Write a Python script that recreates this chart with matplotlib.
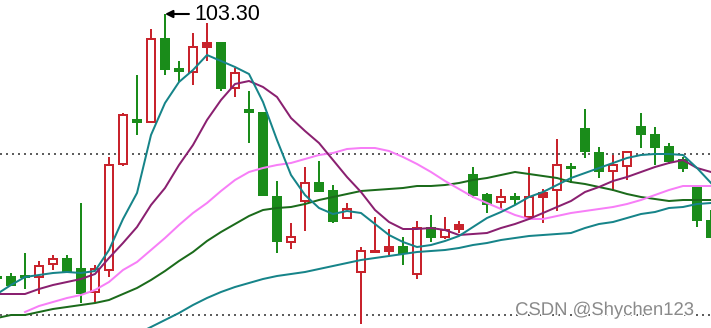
import matplotlib.pyplot as plt
import matplotlib.patheffects as pe
import numpy as np

# candle index, -1 is the half-hidden one at the left edge
idx = np.arange(-1, 51)

opens = np.array([90.15, 90.15, 90.20, 90.15, 90.80, 91.05, 90.55, 89.40, 90.50, 95.80,
                  98.00, 97.90, 102.05, 100.55, 100.40, 101.65, 101.85, 99.60, 98.50, 98.35,
                  94.15, 91.90, 93.95, 94.85, 94.45, 93.10, 90.40, 91.40, 91.45, 91.65,
                  90.30, 92.60, 92.15, 92.55, 95.25, 94.25, 93.90, 94.15, 93.15, 94.15,
                  94.50, 95.65, 97.55, 96.35, 95.45, 95.70, 97.65, 97.25, 96.65, 96.00,
                  94.65, 92.95])
closes = np.array([90.10, 89.75, 90.15, 90.70, 91.05, 90.40, 89.35, 90.55, 95.75, 98.25,
                   97.90, 102.05, 100.55, 100.45, 101.65, 101.85, 99.60, 100.35, 98.40, 94.25,
                   91.95, 92.15, 94.85, 94.45, 92.95, 93.55, 91.45, 91.45, 91.65, 91.35,
                   92.60, 92.15, 92.50, 92.75, 94.25, 93.80, 94.15, 94.05, 94.15, 94.35,
                   95.75, 95.60, 96.45, 95.45, 95.75, 96.40, 97.30, 96.65, 95.95, 95.60,
                   93.00, 92.15])
highs = np.array([90.20, 90.35, 91.35, 90.95, 91.25, 91.25, 93.85, 90.75, 96.15, 98.35,
                  100.25, 102.55, 103.30, 100.95, 102.35, 102.85, 101.85, 100.60, 99.45, 98.35,
                  94.95, 92.85, 95.65, 95.95, 94.75, 93.85, 91.65, 93.15, 92.55, 92.15,
                  92.95, 93.25, 93.15, 92.95, 95.65, 94.35, 94.55, 94.35, 95.65, 94.55,
                  97.05, 95.85, 98.55, 96.65, 96.25, 96.40, 98.35, 97.65, 96.85, 96.15,
                  94.65, 93.50])
lows = np.array([90.05, 89.75, 89.55, 89.30, 90.50, 90.40, 88.85, 88.90, 90.15, 95.70,
                 97.25, 97.90, 100.25, 99.90, 99.75, 100.95, 99.45, 99.15, 96.85, 94.25,
                 91.35, 91.55, 92.45, 94.45, 92.85, 93.10, 87.80, 91.40, 91.25, 90.75,
                 90.05, 91.90, 92.05, 92.35, 94.10, 93.35, 93.55, 93.75, 93.00, 92.85,
                 93.45, 94.85, 96.10, 95.10, 94.45, 95.00, 96.60, 95.75, 95.80, 95.40,
                 92.65, 92.10])

nan = np.nan
ma5 = [89.30, 89.75, 90.15, 90.25, 90.35, 90.40, 90.35, 90.45, 91.50, 93.05,
       94.35, 97.25, 98.85, 99.90, 100.50, 101.25, 100.95, 100.65, 100.30, 98.90,
       97.00, 95.25, 94.25, 93.60, 93.30, 93.45, 93.35, 92.80, 92.25, 91.90,
       91.65, 91.75, 91.95, 92.20, 92.65, 93.10, 93.40, 93.75, 94.15, 94.40,
       94.75, 95.10, 95.35, 95.60, 95.85, 96.10, 96.25, 96.30, 96.30, 96.25,
       95.60, 94.85]
ma10 = [89.30, 89.30, 89.30, 89.55, 89.75, 89.90, 90.05, 90.30, 91.10, 91.85,
        92.65, 93.75, 94.60, 95.75, 96.75, 98.00, 99.00, 99.80, 99.95, 99.65,
        99.15, 98.10, 97.45, 96.85, 96.00, 95.15, 94.40, 93.50, 92.90, 92.55,
        92.55, 92.60, 92.50, 92.25, 92.30, 92.35, 92.60, 92.80, 93.05, 93.35,
        93.65, 93.95, 94.40, 94.65, 94.95, 95.15, 95.40, 95.65, 95.85, 96.00,
        95.60, 95.40]
ma20 = [nan, nan, 88.40, 88.70, 88.90, 89.10, 89.25, 89.50, 89.90, 90.50,
        90.90, 91.50, 92.10, 92.75, 93.35, 93.85, 94.45, 95.00, 95.40, 95.60,
        95.75, 95.85, 96.05, 96.25, 96.35, 96.55, 96.60, 96.60, 96.45, 96.15,
        95.80, 95.40, 94.95, 94.55, 94.15, 93.85, 93.55, 93.25, 93.05, 93.05,
        93.20, 93.35, 93.45, 93.55, 93.65, 93.80, 94.00, 94.25, 94.50, 94.70,
        94.70, 94.70]
ma30 = [88.10, 88.25, 88.25, 88.40, 88.55, 88.65, 88.75, 88.85, 89.00, 89.30,
        89.60, 90.00, 90.45, 90.95, 91.40, 91.95, 92.40, 92.80, 93.20, 93.50,
        93.60, 93.65, 93.80, 94.00, 94.15, 94.30, 94.45, 94.50, 94.55, 94.60,
        94.70, 94.70, 94.75, 94.85, 95.00, 95.10, 95.25, 95.40, 95.30, 95.20,
        95.10, 94.90, 94.80, 94.65, 94.50, 94.30, 94.15, 94.05, 93.95, 94.00,
        94.00, 94.00]
ma60 = [nan, nan, nan, nan, nan, nan, nan, nan, 86.20, 86.75,
        87.30, 87.65, 88.00, 88.35, 88.75, 89.10, 89.40, 89.65, 89.85, 90.05,
        90.20, 90.30, 90.40, 90.55, 90.70, 90.85, 91.00, 91.10, 91.20, 91.30,
        91.40, 91.45, 91.50, 91.60, 91.75, 91.85, 92.00, 92.10, 92.20, 92.25,
        92.30, 92.35, 92.60, 92.80, 92.90, 93.10, 93.30, 93.40, 93.60, 93.65,
        93.80, 93.85]

grid_levels = [96.30, 88.25]
peak_label = "103.30"
peak_idx = 11
peak_value = 103.30

RED = '#c8232c'
GREEN = '#1a8c1a'

fig = plt.figure(figsize=(7.11, 3.28), dpi=100)
ax = fig.add_axes([0, 0, 1, 1])
ax.set_xlim(-11 / 14, 50)
ax.set_ylim(87.6, 104.0)
ax.axis('off')

for lvl in grid_levels:
    ax.axhline(lvl, color='#5f5f5f', lw=1.44, dashes=(1, 2), zorder=0)

up = closes >= opens
ax.vlines(idx, lows, highs, colors=np.where(up, RED, GREEN), lw=1.44, zorder=2)
ax.bar(idx[~up], (opens - closes)[~up], bottom=closes[~up], width=8 / 14,
       color=GREEN, edgecolor=GREEN, lw=1.44, zorder=3)
# very short up bodies show as solid red blocks
body = closes - opens
face = np.where(body < 0.24, RED, 'white')
ax.bar(idx[up], body[up], bottom=opens[up], width=8 / 14,
       color=face[up], edgecolor=RED, lw=1.44, zorder=3)

ax.plot(idx, ma60, color='#168489', lw=1.44, zorder=4)
ax.plot(idx, ma30, color='#1b6b1b', lw=1.44, zorder=4)
ax.plot(idx, ma20, color='#f77ef7', lw=1.44, zorder=4)
ax.plot(idx, ma10, color='#8a2070', lw=1.44, zorder=4)
ax.plot(idx, ma5, color='#168489', lw=1.44, zorder=4)

# max price marker
ax.annotate('', xy=(peak_idx, peak_value), xytext=(12.71, peak_value),
            arrowprops=dict(arrowstyle='-|>', color='black', lw=1.5,
                            shrinkA=0, shrinkB=0, mutation_scale=11), zorder=5)
ax.text(13.07, 102.98, peak_label, ha='left', va='baseline', fontsize=15.5,
        family='Liberation Sans', color='black', zorder=5)

fig.text(694 / 711, 1 - 315 / 328, 'CSDN @Shychen123', ha='right', va='baseline',
         fontsize=13.3, family='Liberation Sans', color='#8a8a8a',
         path_effects=[pe.withStroke(linewidth=2, foreground='white')])

fig.savefig('out.png', dpi=100)
